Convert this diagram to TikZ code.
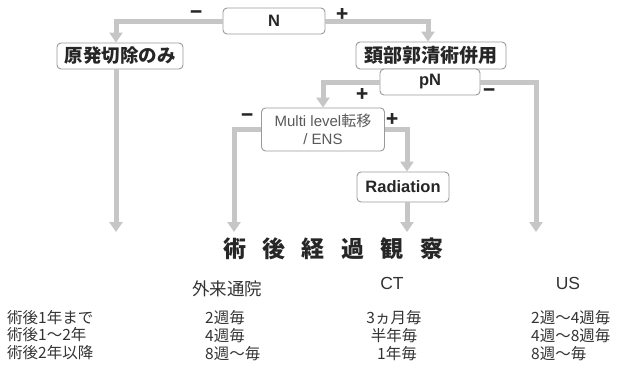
\documentclass[tikz,border=0pt]{standalone}
\usepackage{fontspec}
\setmainfont{Noto Sans CJK JP}
\newfontfamily\lat{Liberation Sans}
\usetikzlibrary{arrows.meta}
\definecolor{connc}{HTML}{C6C6C6}
\definecolor{boxline}{HTML}{9A9A9A}
\definecolor{txt}{HTML}{333333}
\begin{document}
\begin{tikzpicture}[x=1pt,y=-1pt,
  box/.style={draw=boxline, line width=0.9pt, rounded corners=4pt, fill=white, inner sep=0pt,
    font=\bfseries\fontsize{16.5}{18}\selectfont, text=black!85},
  conn/.style={draw=connc, line width=5pt},
  arr/.style={conn, -{Triangle[width=13pt,length=10pt]}},
  sign/.style={font=\bfseries\fontsize{20}{20}\selectfont, inner sep=0pt, text=black!85},
  cell/.style={font=\fontsize{15.5}{17}\selectfont, text=txt, inner sep=0pt},
  colhead/.style={font=\fontsize{17.5}{19}\selectfont, text=txt, inner sep=0pt},
]
\useasboundingbox (0,0) rectangle (620,372);
% boxes
\node[box, minimum width=102pt, minimum height=26pt] (N) at (274,21) {\lat N};
\node[box, minimum width=126pt, minimum height=26pt, font=\bfseries\fontsize{18.5}{20}\selectfont] (gen) at (120,56) {原発切除のみ};
\node[box, minimum width=150pt, minimum height=27pt, font=\bfseries\fontsize{19}{20}\selectfont] (neck) at (431,55.5) {頚部郭清術併用};
\node[box, minimum width=100pt, minimum height=26pt] (pN) at (430,82) {\lat pN};
\node[box, minimum width=123pt, minimum height=43pt, align=center, font=\fontsize{15}{18}\selectfont, text=black!65] (ml) at (323,129.5) {{\lat Multi level}転移\\{\lat / ENS}};
\node[box, minimum width=92pt, minimum height=30pt] (rad) at (403,187) {\lat Radiation};
% end points
\coordinate (genend) at (116,232);
\coordinate (mlend) at (234,232);
\coordinate (radend) at (407,232);
\coordinate (usend) at (536,232);
% connectors
\draw[arr] (N.west) -| ([xshift=-4]gen.north);
\draw[arr] (N.east) -| ([xshift=-3]neck.north);
\draw[arr] (pN.west) -| (ml.north);
\draw[arr] (pN.east) -| (usend);
\draw[arr] ([xshift=-4]gen.south) -- (genend);
\draw[arr] (ml.west) -| (mlend);
\draw[arr] (ml.east) -| ([xshift=4]rad.north);
\draw[arr] ([xshift=4]rad.south) -- (radend);
% signs
\node[sign] (s1) at (197,15) {−};
\node[sign] (s2) at (343,15) {+};
\node[sign] (s3) at (363,95) {+};
\node[sign] (s4) at (490,93) {−};
\node[sign] (s5) at (248,118) {−};
\node[sign] (s6) at (393,120) {+};
% heading
\node[inner sep=0pt, font=\bfseries\fontsize{23}{25}\selectfont, text=black!85] (head) at (333,249)
  {術\hspace{16.4pt}後\hspace{16.4pt}経\hspace{16.4pt}過\hspace{16.4pt}観\hspace{16.4pt}察};
% column heads
\node[colhead] (h1) at (227,289) {外来通院};
\node[colhead] (h2) at (392,283) {\lat CT};
\node[colhead] (h3) at (568,283) {\lat US};
% row labels
\node[cell, anchor=west] (r1) at (7,318) {術後1年まで};
\node[cell, anchor=west] (r2) at (7,335) {術後1〜2年};
\node[cell, anchor=west] (r3) at (7,353) {術後2年以降};
% column 1
\node[cell, anchor=west] (a1) at (205,318) {2週毎};
\node[cell, anchor=west] (a2) at (205,336) {4週毎};
\node[cell, anchor=west] (a3) at (205,354) {8週〜毎};
% column 2
\node[cell] (b1) at (394,318) {3ヵ月毎};
\node[cell] (b2) at (394,336) {半年毎};
\node[cell] (b3) at (397,354) {1年毎};
% column 3
\node[cell, anchor=west] (c1) at (531,318) {2週〜4週毎};
\node[cell, anchor=west] (c2) at (531,336) {4週〜8週毎};
\node[cell, anchor=west] (c3) at (531,354) {8週〜毎};
\end{tikzpicture}
\end{document}
